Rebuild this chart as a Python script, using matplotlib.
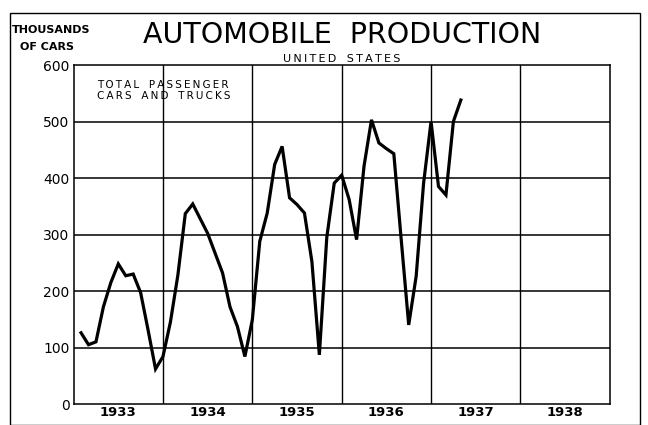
import numpy as np
import matplotlib
matplotlib.use('Agg')
import matplotlib.pyplot as plt
from matplotlib.patches import Rectangle

# monthly production, thousands of cars
prod_1933 = [126, 105, 110, 172, 215, 248, 227, 230, 197, 131, 62, 84]
prod_1934 = [145, 228, 337, 354, 328, 302, 267, 232, 172, 137, 84, 149]
prod_1935 = [288, 338, 424, 456, 365, 353, 338, 252, 87, 295, 391, 405]
prod_1936 = [362, 291, 421, 503, 462, 452, 443, 290, 140, 226, 391, 500]
prod_1937 = [385, 370, 500, 538]

years = [1933, 1934, 1935, 1936, 1937, 1938]
y_ticks = [0, 100, 200, 300, 400, 500, 600]

values = prod_1933 + prod_1934 + prod_1935 + prod_1936 + prod_1937
# each month plotted at its end
x = 1933 + np.arange(1, len(values) + 1) / 12


def spaced(s):
    # thin space between letters, like the hand lettering
    return '\u2009'.join(s)


fig = plt.figure(figsize=(6.48, 4.25), dpi=100)
ax = fig.add_axes([0.1136, 0.0494, 0.8274, 0.7976])

ax.plot(x, values, color='black', lw=2.3, solid_joinstyle='miter')

ax.set_xlim(1933, 1939)
ax.set_ylim(0, 600)
ax.set_yticks(y_ticks)
ax.set_xticks([y + 0.5 for y in years])
ax.set_xticklabels([str(y) for y in years], fontsize=9.5, fontweight='bold')
ax.set_yticklabels([str(v) for v in y_ticks], fontsize=10)
ax.tick_params(length=0, pad=3)
ax.tick_params(axis='x', pad=1.5)

for v in y_ticks[1:-1]:
    ax.axhline(v, color='black', lw=1.1)
for yr in years[1:]:
    ax.axvline(yr, color='black', lw=1.0)
for s in ax.spines.values():
    s.set_linewidth(1.1)

ax.text(0.043, 0.955, spaced('TOTAL') + '   ' + spaced('PASSENGER') + '\n'
        + spaced('CARS') + '   ' + spaced('AND') + '   ' + spaced('TRUCKS'),
        transform=ax.transAxes, fontsize=7.5, va='top', ha='left', linespacing=1.05)

fig.text(0.528, 0.918, 'AUTOMOBILE  PRODUCTION', ha='center', va='center',
         fontsize=20.5)
fig.text(0.528, 0.862, spaced('UNITED') + '   ' + spaced('STATES'), ha='center',
         va='center', fontsize=8)
fig.text(0.018, 0.93, 'THOUSANDS', ha='left', va='center', fontsize=8, fontweight='bold')
fig.text(0.072, 0.89, 'OF CARS', ha='center', va='center', fontsize=8, fontweight='bold')

# outer frame
fig.patches.append(Rectangle((0.015, 0.0), 0.973, 0.97, transform=fig.transFigure,
                             fill=False, lw=1.0, ec='black'))

fig.savefig('out.png', dpi=100)
